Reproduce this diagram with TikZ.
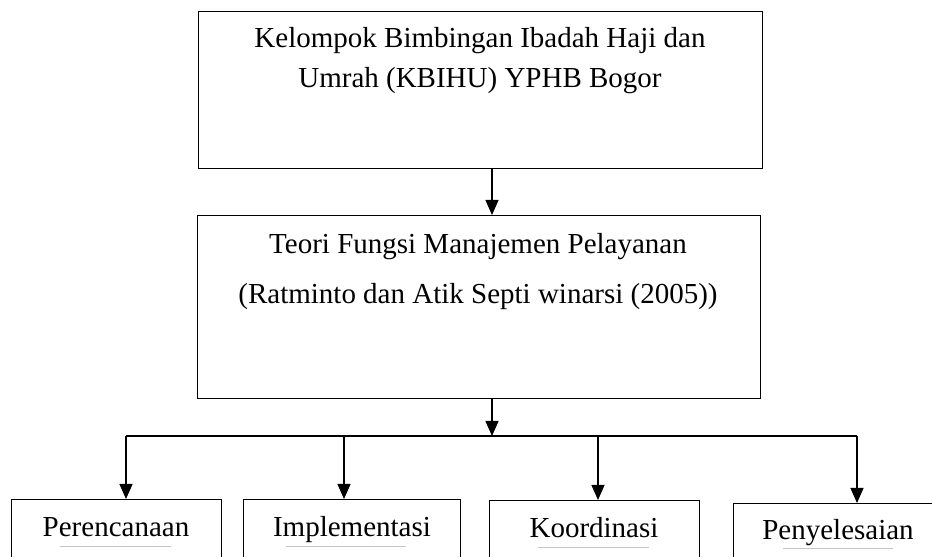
\documentclass[tikz,border=0pt]{standalone}
\usepackage{fontspec}
\setmainfont{Liberation Serif}
\usetikzlibrary{arrows.meta, positioning}

\begin{document}
\begin{tikzpicture}
  [
    x=1pt, y=1pt,
    box/.style={draw, line width=1.4pt, inner sep=0pt, anchor=north west},
    lbl/.style={inner sep=0pt, align=center, font=\fontsize{29}{40}\selectfont},
    arr/.style={line width=1.2pt, -{Triangle[length=15pt,width=13pt]}},
    rule/.style={draw=gray!45, line width=0.6pt}
  ]
  \useasboundingbox (0,0) rectangle (932,557);

  % main boxes
  \node[box, minimum width=564, minimum height=157] (kbihu) at (198,546) {};
  \node[lbl, anchor=north] (kbihuText) at (480,530)
    {Kelompok Bimbingan Ibadah Haji dan\\Umrah (KBIHU) YPHB Bogor};

  \node[box, minimum width=563, minimum height=183] (teori) at (197,342) {};
  \node[lbl, anchor=north, font=\fontsize{29}{50}\selectfont] (teoriText) at (478,324)
    {Teori Fungsi Manajemen Pelayanan\\(Ratminto dan Atik Septi winarsi (2005))};

  % fungsi boxes
  \node[box, minimum width=210, minimum height=70] (perencanaan) at (11,58) {};
  \node[box, minimum width=217, minimum height=70] (implementasi) at (243,58) {};
  \node[box, minimum width=210, minimum height=70] (koordinasi) at (489,57) {};
  \node[box, minimum width=240, minimum height=70] (penyelesaian) at (733,54) {};

  \node[lbl, anchor=base] (perencanaanText) at (116,20) {Perencanaan};
  \node[lbl, anchor=base] (implementasiText) at (352,20) {Implementasi};
  \node[lbl, anchor=base] (koordinasiText) at (594,19) {Koordinasi};
  \node[lbl, anchor=base] (penyelesaianText) at (838,17) {Penyelesaian};

  % connectors
  \coordinate (hub) at (492,121);
  \coordinate (b1) at (126,121);
  \coordinate (b2) at (344,121);
  \coordinate (b3) at (598,121);
  \coordinate (b4) at (857,121);

  \draw[arr] (kbihu.south -| hub) -- (teori.north -| hub);
  \draw[arr] (teori.south -| hub) -- (hub);
  \draw[line width=1.2pt] (b1) -- (b4);
  \draw[arr] (b1) -- (b1 |- perencanaan.north);
  \draw[arr] (b2) -- (b2 |- implementasi.north);
  \draw[arr] (b3) -- (b3 |- koordinasi.north);
  \draw[arr] (b4) -- (b4 |- penyelesaian.north);

  % faint rules under the labels
  \draw[rule] (60,11) -- (171,11);
  \draw[rule] (286,11) -- (406,11);
  \draw[rule] (538,10) -- (649,10);
  \draw[rule] (783,9) -- (893,9);
\end{tikzpicture}
\end{document}
